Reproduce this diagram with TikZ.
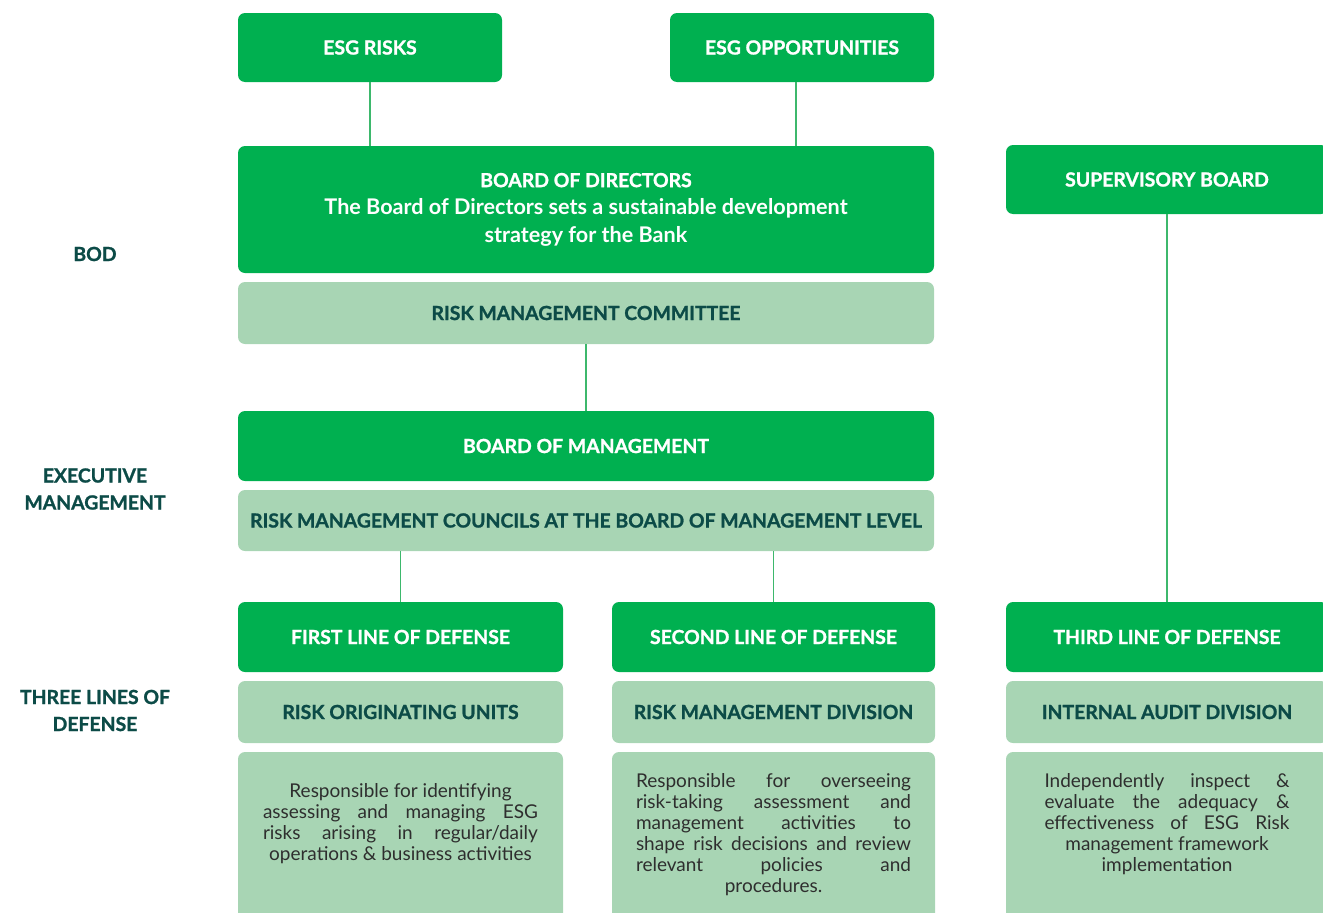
\documentclass[tikz,border=0pt]{standalone}
\usepackage{fontspec}
\setmainfont{Lato}
\newfontfamily\hfam{Lato}[BoldFeatures={FakeBold=1.2}]
\definecolor{dgreen}{HTML}{00B050}
\definecolor{lgreen}{HTML}{A8D5B4}
\definecolor{lineg}{HTML}{3DB86C}
\definecolor{teal}{HTML}{0C4B47}
\definecolor{bodytxt}{HTML}{2E2E2E}
\newcommand\hfnt{\hfam\fontsize{19.4}{22}\selectfont\bfseries}
\newcommand\bfnt{\fontsize{19}{21}\selectfont}
\newcommand\dfnt{\rmfamily\bfseries\fontsize{21.6}{27.5}\selectfont}
\begin{document}
\begin{tikzpicture}[x=1pt,y=-1pt,
  dbox/.style={fill=dgreen, rounded corners=7pt, text=white, font=\hfnt, inner sep=0pt, align=center},
  lbox/.style={fill=lgreen, rounded corners=7pt, text=teal, font=\hfnt, inner sep=0pt, align=center},
  pbox/.style={fill=lgreen, rounded corners=7pt, inner sep=0pt},
  ptext/.style={text=bodytxt, font=\bfnt, inner sep=0pt, align=center},
  side/.style={text=teal, font=\hfam\fontsize{19.4}{27}\selectfont\bfseries, align=center, inner sep=0pt},
  link/.style={draw=lineg, line width=1.5pt}]
\useasboundingbox (0,0) rectangle (1323,913);
\clip (0,0) rectangle (1323,913);
% top row
\node[dbox, minimum width=264pt, minimum height=69pt] (esgr) at (370,47.5) {ESG RISKS};
\node[dbox, minimum width=264pt, minimum height=69pt] (esgo) at (802,47.5) {ESG OPPORTUNITIES};
\node[dbox, minimum width=696pt, minimum height=127pt, font=\hfam\fontsize{19.4}{27.5}\selectfont\bfseries] (bod) at (586,209.5)
  {BOARD OF DIRECTORS\\\dfnt The Board of Directors sets a sustainable development\\\dfnt strategy for the Bank};
\node[lbox, minimum width=696pt, minimum height=62pt] (rmc) at (586,313) {RISK MANAGEMENT COMMITTEE};
\node[dbox, minimum width=696pt, minimum height=70pt] (bom) at (586,446) {BOARD OF MANAGEMENT};
\node[lbox, minimum width=696pt, minimum height=61pt] (rmcl) at (586,520.5) {RISK MANAGEMENT COUNCILS AT THE BOARD OF MANAGEMENT LEVEL};
\node[dbox, minimum width=322pt, minimum height=69pt] (sup) at (1167,179.5) {SUPERVISORY BOARD};
% lines of defense
\node[dbox, minimum width=325pt, minimum height=70pt] (first) at (400.5,637) {FIRST LINE OF DEFENSE};
\node[dbox, minimum width=323pt, minimum height=70pt] (second) at (773.5,637) {SECOND LINE OF DEFENSE};
\node[dbox, minimum width=322pt, minimum height=70pt] (third) at (1167,637) {THIRD LINE OF DEFENSE};
\node[lbox, minimum width=325pt, minimum height=62pt] (rou) at (400.5,712) {RISK ORIGINATING UNITS};
\node[lbox, minimum width=323pt, minimum height=62pt] (rmd) at (773.5,712) {RISK MANAGEMENT DIVISION};
\node[lbox, minimum width=322pt, minimum height=62pt] (iad) at (1167,712) {INTERNAL AUDIT DIVISION};
\node[pbox, minimum width=325pt, minimum height=178pt] (d1) at (400.5,841) {};
\node[pbox, minimum width=323pt, minimum height=178pt] (d2) at (773.5,841) {};
\node[pbox, minimum width=322pt, minimum height=178pt] (d3) at (1167,841) {};
\node[ptext] (t1) at (400.5,823.5) {Responsible for identifying\\
  \makebox[275pt][s]{assessing and managing ESG}\\
  \makebox[275pt][s]{risks arising in regular/daily}\\
  operations \& business activities};
\node[ptext] (t2) at (773.5,834.5) {\makebox[275pt][s]{Responsible for overseeing}\\
  \makebox[275pt][s]{risk-taking assessment and}\\
  \makebox[275pt][s]{management activities to}\\
  \makebox[275pt][s]{shape risk decisions and review}\\
  \makebox[275pt][s]{relevant policies and}\\
  procedures.};
\node[ptext] (t3) at (1167,824) {\makebox[245pt][s]{Independently inspect \&}\\
  \makebox[245pt][s]{evaluate the adequacy \&}\\
  \makebox[245pt][s]{effectiveness of ESG Risk}\\
  management framework\\
  implementation};
% side labels
\node[side] (lbod) at (95,254) {BOD};
\node[side] (lexe) at (95,489) {EXECUTIVE\\MANAGEMENT};
\node[side] (ltld) at (95,710.5) {THREE LINES OF\\DEFENSE};
% connectors
\draw[link] (esgr.south) -- (esgr.south |- bod.north);
\draw[link] ([xshift=-6pt]esgo.south) -- ([xshift=-6pt]esgo.south |- bod.north);
\draw[link] (rmc.south) -- (bom.north);
\draw[link] (first.north) -- (first.north |- rmcl.south);
\draw[link] (second.north) -- (second.north |- rmcl.south);
\draw[link] (sup.south) -- (third.north);
\end{tikzpicture}
\end{document}
